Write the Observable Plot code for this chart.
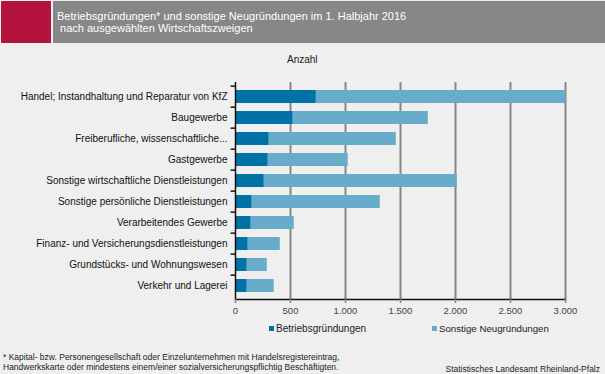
<!DOCTYPE html>
<html><head><meta charset="utf-8">
<script src="https://cdn.jsdelivr.net/npm/d3@7"></script>
<script src="https://cdn.jsdelivr.net/npm/@observablehq/plot@0.6"></script>
<style>
body{margin:0;background:#eeefee;font-family:"Liberation Sans",Arial,sans-serif;}
#wrap{position:relative;width:605px;height:374px;overflow:hidden;background:#eeefee;}
#chart{position:absolute;left:0;top:0;}
.ov{position:absolute;white-space:nowrap;}
#red{left:1px;top:1px;width:50px;height:42px;background:#b5123e;}
#grey{left:53px;top:1px;width:552px;height:42px;background:#878787;}
.t{color:#fff;font-size:11px;line-height:12px;}
.sw{display:inline-block;width:5px;height:5px;margin-right:2px;vertical-align:1px;}
.leg{font-size:10px;color:#222;}
.fn{font-size:8.5px;color:#222;line-height:10px;}
</style></head>
<body>
<div id="wrap">
<div id="chart"></div>
<div class="ov" id="red"></div>
<div class="ov" id="grey"></div>
<div class="ov t" style="left:57px;top:10px;">Betriebsgründungen* und sonstige Neugründungen im 1. Halbjahr 2016</div>
<div class="ov t" style="left:57px;top:22px;">&nbsp;nach ausgewählten Wirtschaftszweigen</div>
<div class="ov leg" style="left:287px;top:54px;font-size:10px;">Anzahl</div>
<div class="ov leg" style="left:269px;top:323px;"><span class="sw" style="background:#0072a6"></span>Betriebsgründungen</div>
<div class="ov leg" style="left:432px;top:323px;font-size:9.7px;"><span class="sw" style="background:#67acca"></span>Sonstige Neugründungen</div>
<div class="ov fn" style="left:3px;top:352px;">* Kapital- bzw. Personengesellschaft oder Einzelunternehmen mit  Handelsregistereintrag,<br>Handwerkskarte oder mindestens einem/einer sozialversicherungspflichtig Beschäftigten.</div>
<div class="ov fn" style="right:5px;top:364px;">Statistisches Landesamt Rheinland-Pfalz</div>
</div>
<script>
const categories = [
  "Handel; Instandhaltung und Reparatur von KfZ",
  "Baugewerbe",
  "Freiberufliche, wissenschaftliche...",
  "Gastgewerbe",
  "Sonstige wirtschaftliche Dienstleistungen",
  "Sonstige persönliche Dienstleistungen",
  "Verarbeitendes Gewerbe",
  "Finanz- und Versicherungsdienstleistungen",
  "Grundstücks- und Wohnungswesen",
  "Verkehr und Lagerei"
];
const betriebsgruendungen = [735, 525, 307, 298, 262, 152, 143, 116, 107, 107];
const sonstigeNeugruendungen = [2270, 1228, 1155, 727, 1754, 1164, 391, 291, 182, 245];
const seriesNames = ["Betriebsgründungen", "Sonstige Neugründungen"];
const seriesColors = ["#0072a6", "#67acca"];
const xTicks = [0, 500, 1000, 1500, 2000, 2500, 3000];

const table = [];
categories.forEach((c, i) => {
  table.push({cat: c, series: seriesNames[0], value: betriebsgruendungen[i]});
  table.push({cat: c, series: seriesNames[1], value: sonstigeNeugruendungen[i]});
});
const fmt = d => d3.format(",")(d).replace(/,/g, ".");
const step = (299 - 82) / categories.length;

const chart = Plot.plot({
  width: 605, height: 374,
  marginLeft: 235, marginRight: 40, marginTop: 82, marginBottom: 75,
  style: {background: "transparent", fontFamily: "Liberation Sans, Arial, sans-serif"},
  x: {domain: [0, 3000], axis: null, label: null},
  y: {domain: categories, paddingInner: 0.4, paddingOuter: 0.2, axis: null, label: null},
  color: {domain: seriesNames, range: seriesColors},
  marks: [
    Plot.ruleX(xTicks.slice(1), {stroke: "#878787", strokeWidth: 2}),
    Plot.barX(table, Plot.stackX({y: "cat", x: "value", fill: "series", order: seriesNames})),
    Plot.ruleX([0], {stroke: "#111", strokeWidth: 1.5}),
    Plot.frame({anchor: "bottom", stroke: "#111", strokeWidth: 1.5}),
    Plot.ruleY(categories, {y: d => d, x1: -40, x2: 0, dy: -step / 2, stroke: "#111", strokeWidth: 1.5, clip: false}),
    Plot.axisX({ticks: xTicks, tickSize: 4, tickFormat: () => "", stroke: "#878787", strokeWidth: 1.5, label: null}),
    Plot.axisX({ticks: xTicks, tickSize: 0, tickPadding: 8, tickFormat: fmt, fontSize: 9.5, color: "#444", label: null}),
    Plot.axisY({tickSize: 0, tickPadding: 8, fontSize: 10, color: "#111", label: null})
  ]
});
document.getElementById("chart").appendChild(chart);
</script>
</body></html>
